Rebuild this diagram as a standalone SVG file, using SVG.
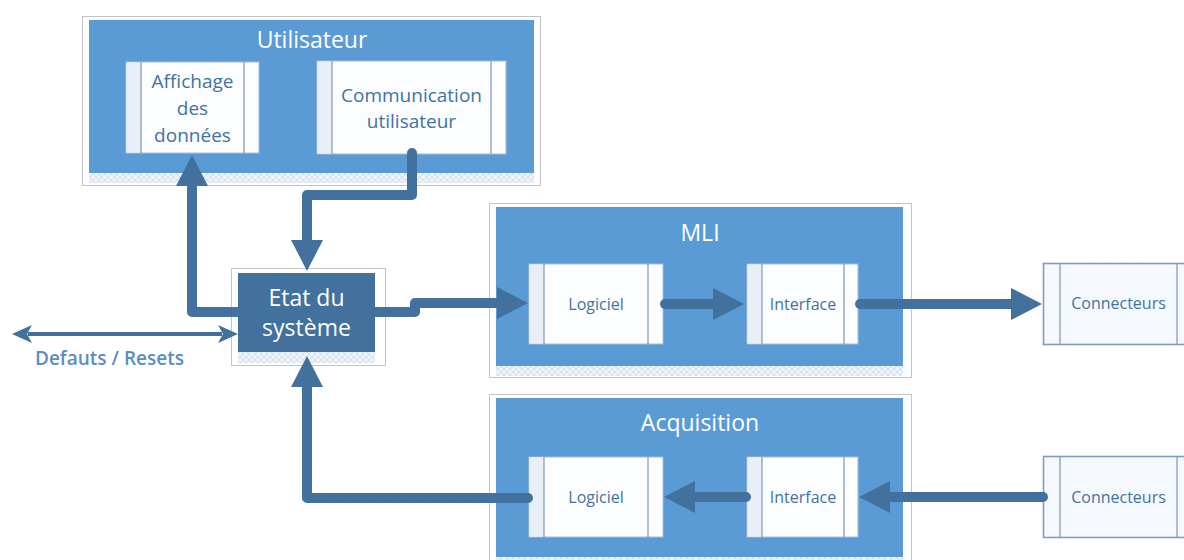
<svg xmlns="http://www.w3.org/2000/svg" width="1184" height="560" viewBox="0 0 1184 560">
<defs>
<style>
.frame{fill:#fff;stroke:#c4c4c4;stroke-width:1}
.blue{fill:#5b9bd5}
.refl{fill:url(#hatch)}
.proc{fill:#fbfdff;stroke:#a9bcd4;stroke-width:1}
.side{fill:#e9eff7}
.div{stroke:#7f97b8;stroke-width:1.2}
.conn{fill:#f5f8fc;stroke:#7f9cc4;stroke-width:1.6}
.title{font-family:"Open Sans","Liberation Sans",sans-serif;font-size:23px;fill:#fff;text-anchor:middle}
.lbl{font-family:"Open Sans","Liberation Sans",sans-serif;font-size:16px;fill:#44729f;text-anchor:middle}
.lbl2{font-family:"Open Sans","Liberation Sans",sans-serif;font-size:19px;fill:#44729f;text-anchor:middle}
.arr{fill:none;stroke:#41719c;stroke-width:10;stroke-linecap:round;stroke-linejoin:round}
.thin{fill:none;stroke:#41719c;stroke-width:4}
</style>
<pattern id="hatch" width="6" height="6" patternUnits="userSpaceOnUse">
<rect width="6" height="6" fill="#eef3fa"/>
<path d="M0,3 L3,0 L6,3 L3,6 Z" fill="none" stroke="#d3e0f0" stroke-width="1"/>
</pattern>
<marker id="head" viewBox="0 0 31 32" refX="0" refY="16" markerWidth="31" markerHeight="32" markerUnits="userSpaceOnUse" orient="auto">
<path d="M0,0 L31,16 L0,32 Z" fill="#41719c"/>
</marker>
<marker id="small" viewBox="0 0 20 18" refX="4" refY="9" markerWidth="20" markerHeight="18" markerUnits="userSpaceOnUse" orient="auto-start-reverse">
<path d="M0,0 L20,9 L0,18 L5,9 Z" fill="#41719c"/>
</marker>
</defs>

<g id="utilisateur">
<rect class="frame" x="82.5" y="16.5" width="458" height="169"/>
<rect class="refl" x="89" y="173" width="445" height="10"/>
<rect class="blue" x="89" y="20" width="445" height="153"/>
<text class="title" x="312" y="48">Utilisateur</text>
</g>
<g id="affichage">
<rect class="proc" x="126" y="62" width="133" height="91"/>
<rect class="side" x="126.5" y="62.5" width="14.5" height="90"/>
<line class="div" x1="141" y1="62" x2="141" y2="153"/>
<line class="div" x1="244" y1="62" x2="244" y2="153"/>
<text class="lbl2" x="192.5" y="88">Affichage</text>
<text class="lbl2" x="192.5" y="115">des</text>
<text class="lbl2" x="192.5" y="142">données</text>
</g>
<g id="communication">
<rect class="proc" x="317" y="61" width="189" height="93"/>
<rect class="side" x="317.5" y="61.5" width="14.5" height="92"/>
<line class="div" x1="332" y1="61" x2="332" y2="154"/>
<line class="div" x1="491" y1="61" x2="491" y2="154"/>
<text class="lbl2" x="411.5" y="102">Communication</text>
<text class="lbl2" x="411.5" y="128">utilisateur</text>
</g>

<g id="etat">
<rect class="frame" x="231.5" y="268.5" width="154" height="97"/>
<rect class="refl" x="238" y="352" width="137" height="11"/>
<rect x="238" y="273" width="137" height="79" fill="#41719c"/>
<text class="title" x="306.5" y="306">Etat du</text>
<text class="title" x="306.5" y="336">système</text>
</g>

<g id="mli">
<rect class="frame" x="489.5" y="203.5" width="422" height="174"/>
<rect class="refl" x="496" y="366" width="407" height="10"/>
<rect class="blue" x="496" y="207" width="407" height="159"/>
<text class="title" x="700" y="241">MLI</text>
</g>
<g id="mli-logiciel">
<rect class="proc" x="529" y="264" width="134" height="80"/>
<rect class="side" x="529.5" y="264.5" width="14.5" height="79"/>
<line class="div" x1="544" y1="264" x2="544" y2="344"/>
<line class="div" x1="648" y1="264" x2="648" y2="344"/>
<text class="lbl" x="596" y="310">Logiciel</text>
</g>
<g id="mli-interface">
<rect class="proc" x="747" y="264" width="111" height="80"/>
<rect class="side" x="747.5" y="264.5" width="14.5" height="79"/>
<line class="div" x1="762" y1="264" x2="762" y2="344"/>
<line class="div" x1="844" y1="264" x2="844" y2="344"/>
<text class="lbl" x="803" y="310">Interface</text>
</g>

<g id="acquisition">
<rect class="frame" x="489.5" y="394.5" width="422" height="175"/>
<rect class="refl" x="496" y="557" width="407" height="10"/>
<rect class="blue" x="496" y="398" width="407" height="159"/>
<text class="title" x="700" y="431">Acquisition</text>
</g>
<g id="acq-logiciel">
<rect class="proc" x="529" y="457" width="134" height="80"/>
<rect class="side" x="529.5" y="457.5" width="14.5" height="79"/>
<line class="div" x1="544" y1="457" x2="544" y2="537"/>
<line class="div" x1="648" y1="457" x2="648" y2="537"/>
<text class="lbl" x="596" y="503">Logiciel</text>
</g>
<g id="acq-interface">
<rect class="proc" x="747" y="457" width="111" height="80"/>
<rect class="side" x="747.5" y="457.5" width="14.5" height="79"/>
<line class="div" x1="762" y1="457" x2="762" y2="537"/>
<line class="div" x1="844" y1="457" x2="844" y2="537"/>
<text class="lbl" x="803" y="503">Interface</text>
</g>

<g id="connecteurs-1">
<rect class="conn" x="1043.5" y="263.5" width="152" height="81"/>
<line class="div" x1="1060" y1="264" x2="1060" y2="344"/>
<line class="div" x1="1177" y1="264" x2="1177" y2="344"/>
<text class="lbl" x="1118.5" y="309">Connecteurs</text>
</g>
<g id="connecteurs-2">
<rect class="conn" x="1043.5" y="456.5" width="152" height="81"/>
<line class="div" x1="1060" y1="457" x2="1060" y2="537"/>
<line class="div" x1="1177" y1="457" x2="1177" y2="537"/>
<text class="lbl" x="1118.5" y="503">Connecteurs</text>
</g>

<g id="connectors">
<path class="arr" d="M376,312 L415,312 L415,303 L497,303" marker-end="url(#head)"/>
<path class="arr" d="M665,304 L713,304" marker-end="url(#head)"/>
<path class="arr" d="M860,304 L1011,304" marker-end="url(#head)"/>
<path class="arr" d="M1043,497 L890,497" marker-end="url(#head)"/>
<path class="arr" d="M746,497 L695,497" marker-end="url(#head)"/>
<path class="arr" d="M528,498 L307,498 L307,387" marker-end="url(#head)"/>
<path class="arr" d="M238,312 L192,312 L192,186" marker-end="url(#head)"/>
<path class="arr" d="M412,153 L412,195 L307,195 L307,240" marker-end="url(#head)"/>
<path class="thin" d="M28,334 L222,334" marker-start="url(#small)" marker-end="url(#small)"/>
<text x="35" y="365" font-family="'Open Sans','Liberation Sans',sans-serif" font-size="19" font-weight="600" fill="#5a8cc6">Defauts / Resets</text>
</g>
</svg>
